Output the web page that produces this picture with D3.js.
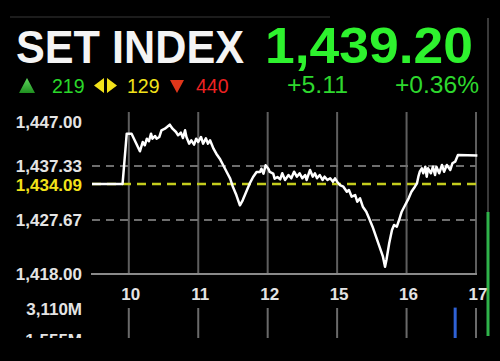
<!DOCTYPE html>
<html>
<head>
<meta charset="utf-8">
<script src="https://cdn.jsdelivr.net/npm/d3@7"></script>
<style>
  html, body { margin: 0; padding: 0; background: #000; }
  svg { display: block; }
  text { font-family: "Liberation Sans", Arial, sans-serif; }
</style>
</head>
<body>
<script>
// header values
const indexName = "SET INDEX";
const lastPrice = "1,439.20";
const change = "+5.11";
const changePct = "+0.36%";
const advances = "219";
const unchanged = "129";
const declines = "440";

// axis ticks (x is in trading-hour slots, 0 = 10:00)
const xTicks = [0, 1, 2, 3, 4, 5];
const xLabels = ["10", "11", "12", "15", "16", "17"];
const yTicks = [1418.00, 1427.67, 1437.33, 1447.00];
const prevClose = 1434.09;

// intraday index
const times = [
	-0.53, -0.09, -0.03, 0.04, 0.16, 0.2, 0.23, 0.26, 0.29, 0.32, 0.34, 0.38, 0.4, 0.44,
	0.47, 0.52, 0.55, 0.59, 0.63, 0.68, 0.71, 0.75, 0.78, 0.81, 0.83, 0.87, 0.9, 0.94,
	0.97, 1.0, 1.04, 1.07, 1.11, 1.14, 1.17, 1.22, 1.26, 1.31, 1.36, 1.41, 1.46, 1.5,
	1.55, 1.6, 1.64, 1.69, 1.74, 1.79, 1.84, 1.89, 1.91, 1.94, 1.97, 2.01, 2.03, 2.08,
	2.1, 2.14, 2.18, 2.21, 2.25, 2.3, 2.34, 2.38, 2.42, 2.46, 2.5, 2.54, 2.56, 2.61,
	2.65, 2.68, 2.71, 2.75, 2.79, 2.82, 2.86, 2.9, 2.94, 2.97, 3.0, 3.04, 3.09, 3.14,
	3.17, 3.21, 3.26, 3.29, 3.33, 3.37, 3.42, 3.46, 3.51, 3.56, 3.61, 3.66, 3.69, 3.71,
	3.75, 3.79, 3.82, 3.86, 3.9, 3.93, 3.98, 4.03, 4.07, 4.12, 4.15, 4.17, 4.19, 4.22,
	4.24, 4.27, 4.29, 4.31, 4.35, 4.38, 4.41, 4.43, 4.47, 4.51, 4.54, 4.58, 4.63, 4.66,
	4.7, 4.74, 5.02
];
const values = [
	1434.09, 1434.09, 1443.12, 1443.10, 1439.97, 1441.63, 1441.04, 1442.22, 1441.76, 1443.12, 1442.22, 1442.70, 1442.22, 1442.53,
	1443.72, 1444.01, 1444.31, 1444.73, 1444.01, 1443.42, 1442.83, 1443.30, 1442.35, 1443.72, 1442.53, 1441.33, 1441.93, 1441.15,
	1442.22, 1441.63, 1442.53, 1441.33, 1442.29, 1441.33, 1441.93, 1440.43, 1439.54, 1438.64, 1437.46, 1436.26, 1435.06, 1433.57,
	1432.09, 1430.30, 1431.19, 1432.68, 1434.17, 1435.36, 1436.26, 1436.26, 1436.85, 1435.96, 1437.46, 1436.85, 1436.26, 1435.96,
	1435.06, 1435.36, 1434.95, 1436.03, 1434.83, 1435.72, 1435.13, 1436.31, 1435.42, 1436.03, 1435.13, 1435.72, 1434.83, 1436.62,
	1435.42, 1436.03, 1435.13, 1435.72, 1434.83, 1435.42, 1434.83, 1435.13, 1434.52, 1435.13, 1434.52, 1433.93, 1433.63, 1432.73,
	1433.04, 1431.84, 1432.14, 1430.94, 1431.55, 1430.05, 1429.15, 1427.97, 1426.47, 1424.68, 1422.89, 1421.10, 1419.31, 1420.51,
	1423.50, 1425.88, 1426.77, 1426.47, 1427.97, 1429.15, 1430.35, 1431.55, 1432.73, 1433.63, 1434.24, 1435.42, 1436.31, 1436.92,
	1436.03, 1437.21, 1435.42, 1436.92, 1436.03, 1437.21, 1435.72, 1437.21, 1436.03, 1437.51, 1436.31, 1437.51, 1436.62, 1437.82,
	1438.11, 1439.30, 1439.20
];

// volume panel
const volTicks = [3110, 1555];
const volLabels = ["3,110M", "1,555M"];
const volTimes = [4.70];
const volValues = [3180];

const width = 500;
const height = 361;

const green = "#2ef22e";
const green2 = "#2ed82e";
const yellow = "#f2e21a";
const red = "#ee2222";

const svg = d3.select("body")
	.append("svg")
	.attr("width", width)
	.attr("height", height)
	.style("background-color", "#000");

const x = d3.scaleLinear().domain([-0.53, 5]).range([92, 476]);
const y = d3.scaleLinear().domain([1418, 1447]).range([274, 112]);
const yVol = d3.scaleLinear().domain([0, 3110]).range([371, 309]);

// frame bits around the screen
svg.append("line")
	.attr("x1", 10).attr("x2", 330).attr("y1", 17).attr("y2", 17)
	.style("stroke", "#1c1c1c").style("stroke-width", 2);
svg.append("line")
	.attr("x1", 488).attr("x2", 488).attr("y1", 18).attr("y2", 212)
	.style("stroke", "#3a3a3a").style("stroke-width", 2);
svg.append("line")
	.attr("x1", 488).attr("x2", 488).attr("y1", 212).attr("y2", 336)
	.style("stroke", "#2fb34a").style("stroke-width", 3);

// header
svg.append("text")
	.attr("x", 16).attr("y", 63)
	.attr("textLength", 228).attr("lengthAdjust", "spacingAndGlyphs")
	.style("font-size", "46px").style("font-weight", "bold")
	.style("fill", "#f4f4f4")
	.text(indexName);

svg.append("text")
	.attr("x", 265).attr("y", 63)
	.attr("textLength", 208).attr("lengthAdjust", "spacingAndGlyphs")
	.style("font-size", "50px").style("font-weight", "bold")
	.style("fill", green)
	.text(lastPrice);

svg.append("text")
	.attr("x", 287).attr("y", 93)
	.attr("textLength", 61).attr("lengthAdjust", "spacingAndGlyphs")
	.style("font-size", "23px")
	.style("fill", green2)
	.text(change);

svg.append("text")
	.attr("x", 395).attr("y", 93)
	.attr("textLength", 84).attr("lengthAdjust", "spacingAndGlyphs")
	.style("font-size", "23px")
	.style("fill", green2)
	.text(changePct);

// breadth row
const grad = svg.append("defs").append("linearGradient")
	.attr("id", "upGrad").attr("x1", 0).attr("x2", 0).attr("y1", 0).attr("y2", 1);
grad.append("stop").attr("offset", "0%").attr("stop-color", "#5fd85f");
grad.append("stop").attr("offset", "100%").attr("stop-color", "#1f8f1f");

svg.append("path")
	.attr("d", "M27,78 L35,93 L19,93 Z")
	.style("fill", "url(#upGrad)");
svg.append("text")
	.attr("x", 52).attr("y", 93)
	.style("font-size", "19.5px").style("fill", "#2ad82a")
	.text(advances);

svg.append("path")
	.attr("d", "M94,85.5 L104,78 L104,93 Z M107,78 L117,85.5 L107,93 Z")
	.style("fill", yellow);
svg.append("text")
	.attr("x", 127).attr("y", 93)
	.style("font-size", "19.5px").style("fill", yellow)
	.text(unchanged);

svg.append("path")
	.attr("d", "M170,80 L184,80 L177,93 Z")
	.style("fill", "#e0361a");
svg.append("text")
	.attr("x", 196).attr("y", 93)
	.style("font-size", "19.5px").style("fill", red)
	.text(declines);

// vertical gridlines (price panel and volume panel)
svg.selectAll(".vgrid")
	.data(xTicks)
	.join("line")
	.attr("class", "vgrid")
	.attr("x1", (d) => x(d))
	.attr("x2", (d) => x(d))
	.attr("y1", 112)
	.attr("y2", 274)
	.style("stroke", "#5e5e5e")
	.style("stroke-width", 2);

svg.selectAll(".vgrid2")
	.data(xTicks)
	.join("line")
	.attr("class", "vgrid2")
	.attr("x1", (d) => x(d))
	.attr("x2", (d) => x(d))
	.attr("y1", 308)
	.attr("y2", 371)
	.style("stroke", "#6a6a6a")
	.style("stroke-width", 2);

// horizontal levels
svg.selectAll(".hgrid")
	.data(yTicks.filter((d) => d > 1418 && d < 1447))
	.join("line")
	.attr("class", "hgrid")
	.attr("x1", 92)
	.attr("x2", 476)
	.attr("y1", (d) => y(d))
	.attr("y2", (d) => y(d))
	.style("stroke", "#6e6e6e")
	.style("stroke-width", 2)
	.style("stroke-dasharray", "8,6");

svg.append("line")
	.attr("x1", 92).attr("x2", 476)
	.attr("y1", y(prevClose)).attr("y2", y(prevClose))
	.style("stroke", "#c4cc1e")
	.style("stroke-width", 2.5)
	.style("stroke-dasharray", "9,6");

svg.append("line")
	.attr("x1", 91).attr("x2", 477)
	.attr("y1", y(1418)).attr("y2", y(1418))
	.style("stroke", "#8a8a8a")
	.style("stroke-width", 2);

// y labels
const yLabelPos = (d) => (d === 1447 ? y(d) + 10 : y(d));
svg.selectAll(".ylab")
	.data(yTicks)
	.join("text")
	.attr("class", "ylab")
	.attr("x", 82)
	.attr("y", (d) => yLabelPos(d))
	.attr("dy", "0.36em")
	.attr("text-anchor", "end")
	.style("font-size", "17px")
	.style("font-weight", "bold")
	.style("fill", "#e4e4e4")
	.text((d) => d3.format(",.2f")(d));

svg.append("text")
	.attr("x", 82)
	.attr("y", y(prevClose) + 1)
	.attr("dy", "0.36em")
	.attr("text-anchor", "end")
	.style("font-size", "17px")
	.style("font-weight", "bold")
	.style("fill", yellow)
	.text(d3.format(",.2f")(prevClose));

// index line
const line = d3.line()
	.x((d, i) => x(times[i]))
	.y((d) => y(d));

svg.append("path")
	.datum(values)
	.attr("d", line)
	.style("fill", "none")
	.style("stroke", "#ffffff")
	.style("stroke-width", 2.5)
	.style("stroke-linejoin", "round");

// x labels
svg.selectAll(".xlab")
	.data(xTicks)
	.join("text")
	.attr("class", "xlab")
	.attr("x", (d) => x(d) + 2)
	.attr("y", 300)
	.attr("text-anchor", "middle")
	.style("font-size", "17px")
	.style("font-weight", "bold")
	.style("fill", "#e4e4e4")
	.text((d, i) => xLabels[i]);

// volume
svg.selectAll(".vlab")
	.data(volTicks)
	.join("text")
	.attr("class", "vlab")
	.attr("x", 82)
	.attr("y", (d) => yVol(d))
	.attr("dy", "0.36em")
	.attr("text-anchor", "end")
	.style("font-size", "17px")
	.style("font-weight", "bold")
	.style("fill", "#e4e4e4")
	.text((d, i) => volLabels[i]);

svg.selectAll(".vbar")
	.data(volValues)
	.join("rect")
	.attr("class", "vbar")
	.attr("x", (d, i) => x(volTimes[i]) - 1.5)
	.attr("width", 3)
	.attr("y", (d) => yVol(d))
	.attr("height", (d) => yVol(0) - yVol(d))
	.style("fill", "#2f62d6");

// bottom of the screen is cut off
svg.append("rect")
	.attr("x", 0).attr("y", 338)
	.attr("width", width).attr("height", height - 338)
	.style("fill", "#000");
</script>
</body>
</html>
